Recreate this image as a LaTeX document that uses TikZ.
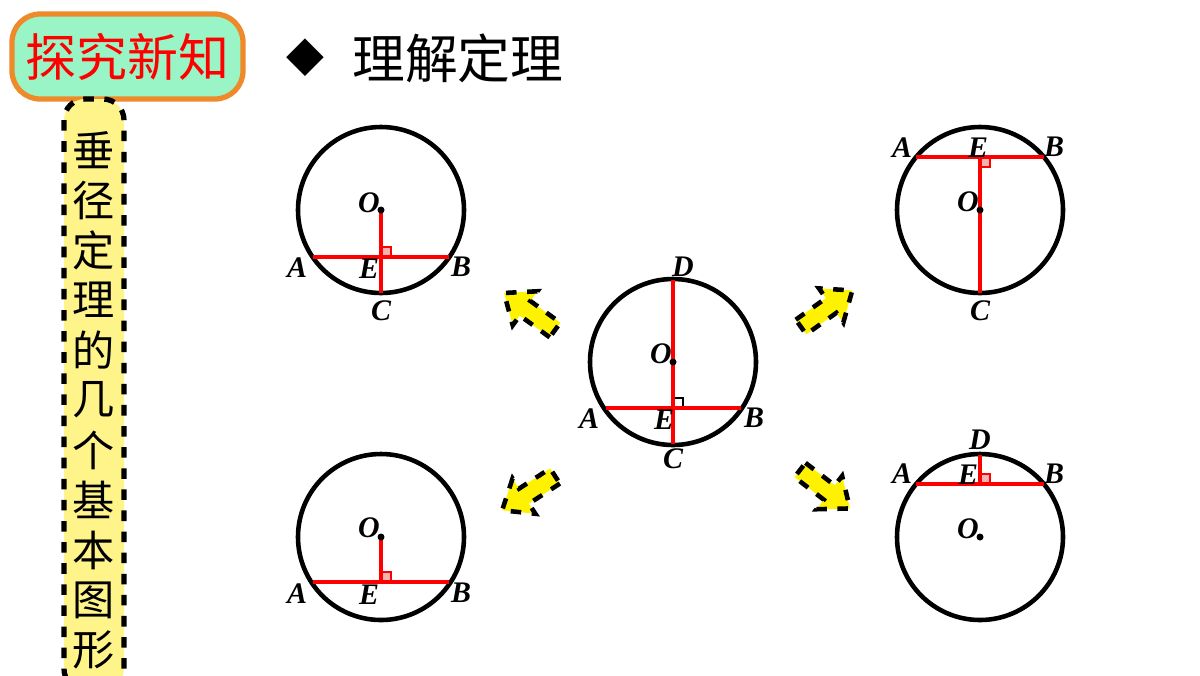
\documentclass[tikz,border=0pt]{standalone}
\usepackage{fontspec}
\setmainfont{Liberation Serif}
\newfontfamily\cjk{Noto Sans CJK SC}
\newfontfamily\symb{DejaVu Sans}
\definecolor{titlegreen}{HTML}{99F5C6}
\definecolor{titleorange}{HTML}{EE8A2A}
\definecolor{noteyellow}{HTML}{FFF48A}
\definecolor{markpink}{HTML}{F5B4B4}

\tikzset{
  ring/.style={black, line width=1.3pt},
  seg/.style={red, line width=1.3pt},
  pt/.style={font=\bfseries\itshape\fontsize{8.5}{8.5}\selectfont},
  blockarrow/.style={fill=yellow, draw=black, dashed, line width=1.3pt, line join=miter}
}
\newcommand\ycall[3]{% x, y, angle
  \begin{scope}[shift={(#1,#2)}, rotate=#3]
    \draw[blockarrow] (0,-9) -- (37,-9) -- (37,-21) -- (63,0) -- (37,21) -- (37,9) -- (0,9) -- cycle;
  \end{scope}}

\begin{document}
\begin{tikzpicture}[x=0.01cm, y=-0.01cm]
  \useasboundingbox (0,0) rectangle (1200,675);
  \clip (0,0) rectangle (1200,675);

  % title and side note
  \draw[draw=titleorange, line width=1.5pt, fill=titlegreen, rounded corners=8pt] (12,14) rectangle (243,99);
  \node[text=red, inner sep=0pt, font=\cjk\fontsize{14.5}{14.5}\selectfont] (title) at (127.5,56.5) {探究新知};
  \draw[dashed, line width=1.5pt, fill=noteyellow, rounded corners=6pt] (64,99) rectangle (124,690);
  \foreach \c [count=\i from 0] in {垂,径,定,理,的,几,个,基,本,图,形}
    \node[font=\cjk\fontsize{12}{12}\selectfont] (note\i) at (94,150+\i*50) {\c};
  \node[font=\symb\fontsize{14}{14}\selectfont] (bullet) at (305,58) {◆};
  \node[font=\cjk\fontsize{15}{15}\selectfont, anchor=west] (head) at (340,58) {理解定理};

  % centre figure
  \draw[ring] (673,362) circle (83);
  \draw (673,398) -- (683,398) -- (683,408);
  \draw[seg] (606,408) -- (741,408);
  \draw[seg] (673,280) -- (673,444);
  \fill (673,362) circle (3.5);
  \node[pt] (cO) at (661,354) {O};
  \node[pt] (cD) at (683,267) {D};
  \node[pt] (cA) at (589,419) {A};
  \node[pt] (cE) at (664,420) {E};
  \node[pt] (cB) at (754,418) {B};
  \node[pt] (cC) at (673,459) {C};

  % top left
  \draw[ring] (381,210) circle (83);
  \draw[red, fill=markpink] (381,247) rectangle (391,257);
  \draw[seg] (313,257) -- (449,257);
  \draw[seg] (381,210) -- (381,293);
  \fill (381,210) circle (3.5);
  \node[pt] (tlO) at (369,203) {O};
  \node[pt] (tlA) at (297,268) {A};
  \node[pt] (tlE) at (369,269) {E};
  \node[pt] (tlB) at (461,267) {B};
  \node[pt] (tlC) at (381,311) {C};

  % bottom left
  \draw[ring] (381,537) circle (83);
  \draw[red, fill=markpink] (381,572) rectangle (391,582);
  \draw[seg] (313,582) -- (449,582);
  \draw[seg] (381,537) -- (381,582);
  \fill (381,537) circle (3.5);
  \node[pt] (blO) at (369,528) {O};
  \node[pt] (blA) at (297,594) {A};
  \node[pt] (blE) at (369,595) {E};
  \node[pt] (blB) at (461,593) {B};

  % top right
  \draw[ring] (980,210) circle (83);
  \draw[red, fill=markpink] (980,157) rectangle (990,167);
  \draw[seg] (916,157) -- (1044,157);
  \draw[seg] (980,157) -- (980,293);
  \fill (980,210) circle (3.5);
  \node[pt] (trO) at (968,202) {O};
  \node[pt] (trA) at (902,148) {A};
  \node[pt] (trE) at (978,148) {E};
  \node[pt] (trB) at (1054,147) {B};
  \node[pt] (trC) at (980,311) {C};

  % bottom right
  \draw[ring] (980,537) circle (83);
  \draw[red, fill=markpink] (980,474) rectangle (990,484);
  \draw[seg] (916,484) -- (1044,484);
  \draw[seg] (980,455) -- (980,484);
  \fill (980,537) circle (3.5);
  \node[pt] (brO) at (968,529) {O};
  \node[pt] (brD) at (980,440) {D};
  \node[pt] (brA) at (902,474) {A};
  \node[pt] (brE) at (968,475) {E};
  \node[pt] (brB) at (1054,474) {B};

  % arrows
  \ycall{555}{330}{144}
  \ycall{801}{327}{35.5}
  \ycall{555}{476}{213}
  \ycall{800}{470}{322.4}
\end{tikzpicture}
\end{document}
